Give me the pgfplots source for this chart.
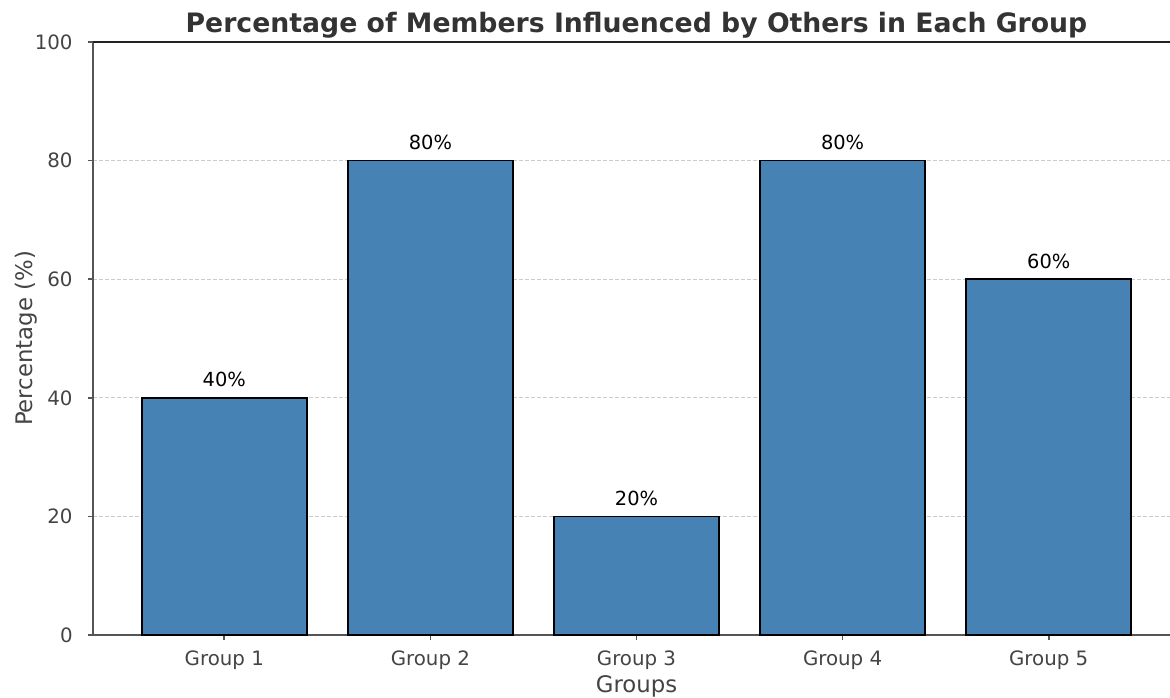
\documentclass[border=0pt]{standalone}
\usepackage{pgfplots}
\pgfplotsset{compat=1.18}
\usepackage{fontspec}
\setmainfont{DejaVu Sans}
\definecolor{barblue}{HTML}{4682B4}
\definecolor{spinec}{HTML}{555555}
\definecolor{topc}{HTML}{222222}
\definecolor{ticklab}{HTML}{444444}
\definecolor{labc}{HTML}{444444}
\definecolor{titlec}{HTML}{333333}
\definecolor{gridc}{HTML}{CCCCCC}
\begin{document}
\begin{tikzpicture}
\begin{axis}[
  at={(0,0)}, anchor=south west,
  scale only axis, width=543.5bp, height=296.5bp,
  xmin=-0.637, xmax=4.637, ymin=0, ymax=100,
  clip=false,
  ybar, bar width=0.8,
  xtick={0,1,2,3,4},
  xticklabels={Group 1,Group 2,Group 3,Group 4,Group 5},
  ytick={0,20,40,60,80,100},
  ymajorgrids,
  grid style={color=gridc, line width=0.5bp, dash pattern=on 2bp off 1bp},
  axis x line*=bottom, axis y line*=left,
  x axis line style={-}, y axis line style={-},
  axis line style={color=spinec, line width=0.8bp},
  tick align=outside, major tick length=2.5bp,
  tick style={color=spinec, line width=0.8bp},
  /pgf/number format/assume math mode=true,
  ticklabel style={font=\fontsize{9.9bp}{11.9bp}\selectfont, text=ticklab, inner sep=0pt},
  xticklabel style={yshift=-5bp},
  yticklabel style={xshift=-7.5bp},
  xlabel={Groups},
  ylabel={Percentage (\%)},
  every axis x label/.style={font=\fontsize{11.4bp}{13.7bp}\selectfont, text=labc, at={(axis description cs:0.5,0)}, anchor=base, yshift=-28.5bp},
  every axis y label/.style={font=\fontsize{11.4bp}{13.7bp}\selectfont, text=labc, at={([xshift=-30.25bp]axis description cs:0,0.5)}, rotate=90, anchor=base},
  title={Percentage of Members Influenced by Others in Each Group},
  every axis title/.style={font=\bfseries\fontsize{13.35bp}{16bp}\selectfont, text=titlec, at={(axis description cs:0.5,1)}, anchor=base, yshift=4.8bp},
  nodes near coords={\pgfmathprintnumber{\pgfplotspointmeta}\%},
  every node near coord/.append style={font=\fontsize{9.7bp}{11.6bp}\selectfont, text=black, anchor=base, inner sep=0pt, yshift=5.5bp},
]
\addplot[fill=barblue, draw=black, line width=0.85bp] coordinates {(0,40) (1,80) (2,20) (3,80) (4,60)};
\draw[color=topc, line width=0.8bp] (rel axis cs:0,1) -- (rel axis cs:1,1);
\end{axis}
\pgfresetboundingbox
\path (-46.5bp,-31.5bp) rectangle (538.5bp,317.5bp);
\end{tikzpicture}
\end{document}
